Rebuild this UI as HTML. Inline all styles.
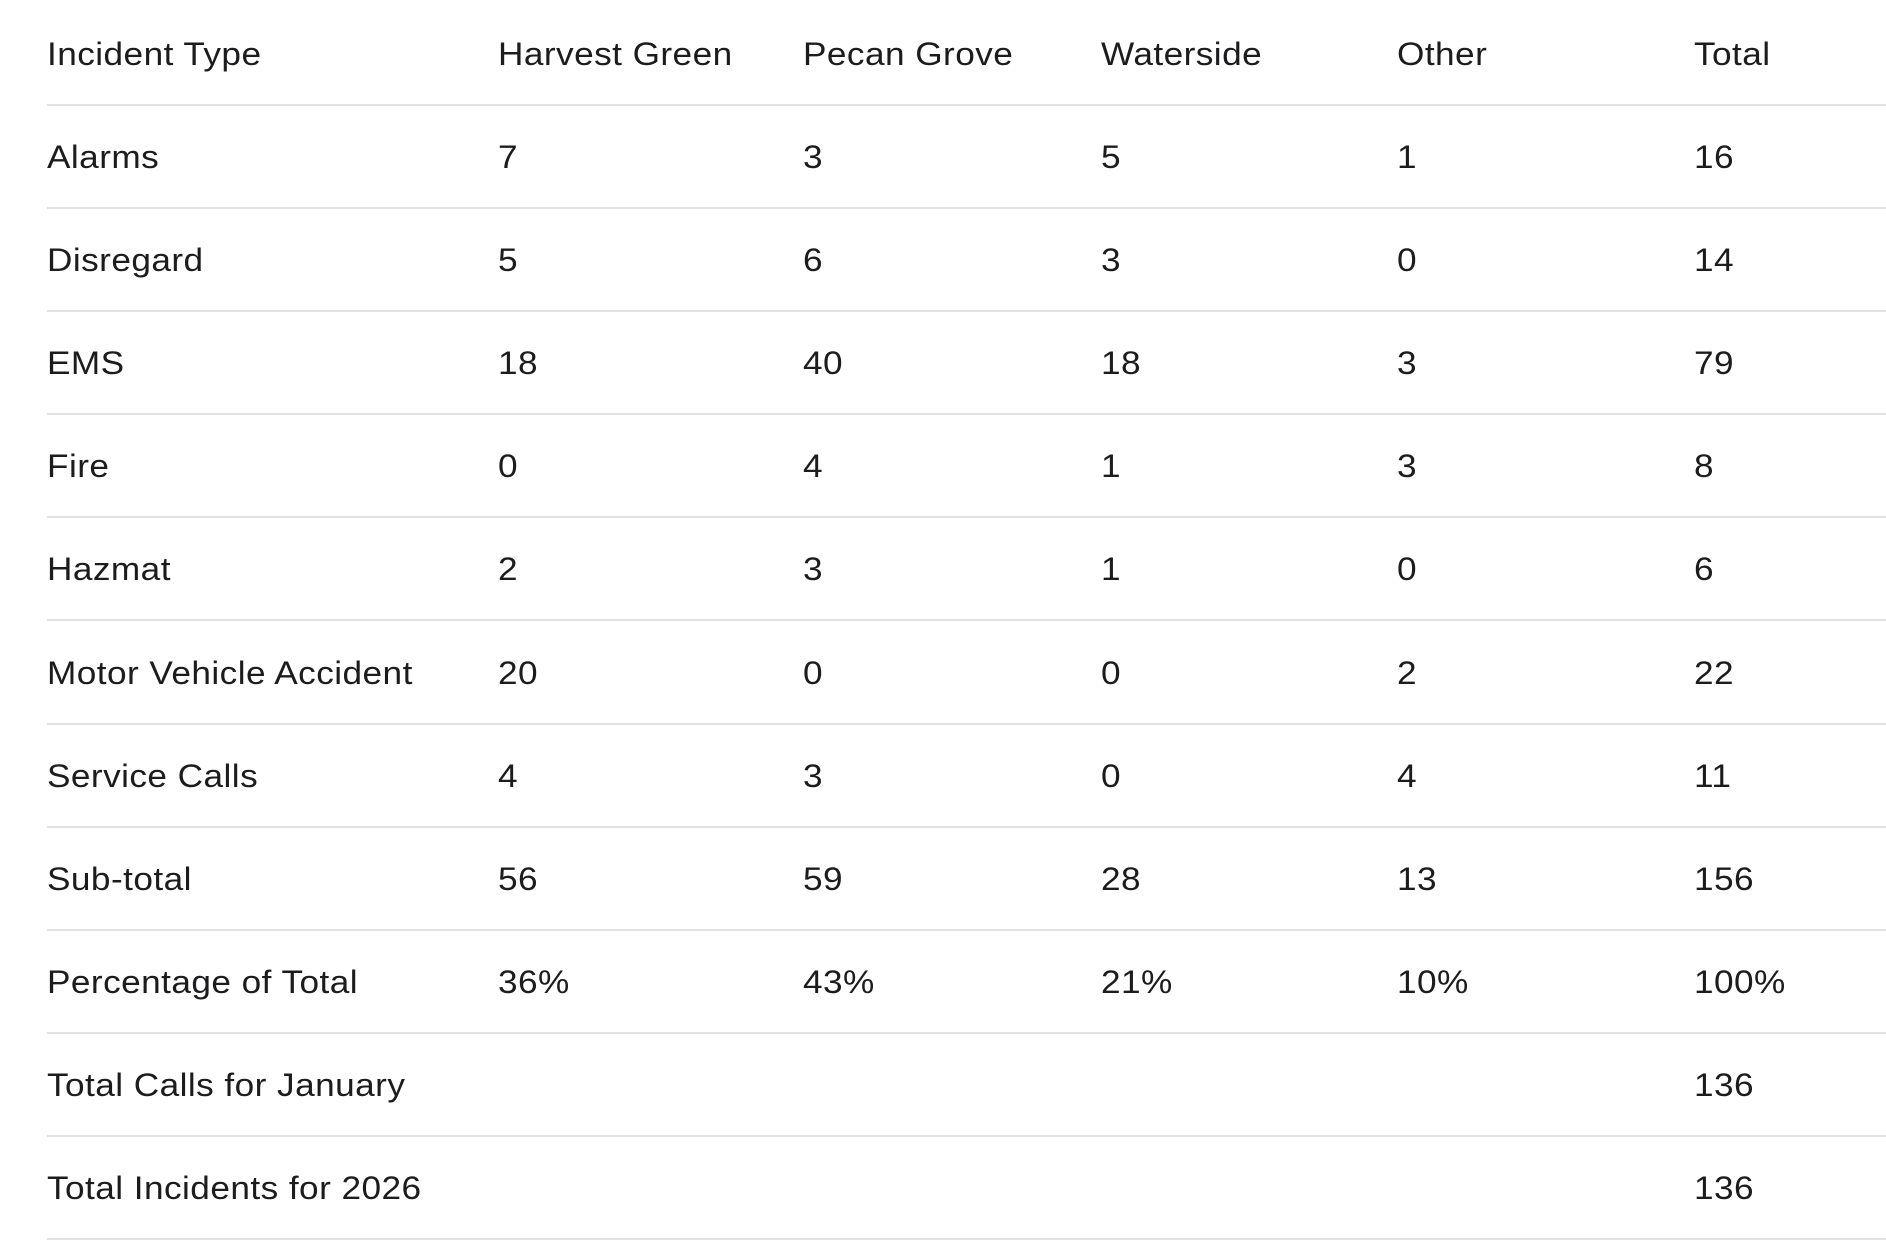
<!DOCTYPE html>
<html><head><meta charset="utf-8"><style>
body{margin:0;width:1886px;height:1242px;background:#fff;overflow:hidden;font-family:"Liberation Sans",sans-serif;color:#1c1c1e;position:relative}
.r{position:absolute;left:47px;right:0;height:103px}
.r.b{border-bottom:2px solid #e2e2e2}
.c{position:absolute;top:2px;line-height:103px;font-size:32px;white-space:nowrap;letter-spacing:0.4px;transform:scaleX(1.1);transform-origin:0 0}
</style></head><body>
<div id="t"></div>
<script>
const rows=[["Incident Type","Harvest Green","Pecan Grove","Waterside","Other","Total"],
["Alarms","7","3","5","1","16"],["Disregard","5","6","3","0","14"],["EMS","18","40","18","3","79"],
["Fire","0","4","1","3","8"],["Hazmat","2","3","1","0","6"],["Motor Vehicle Accident","20","0","0","2","22"],
["Service Calls","4","3","0","4","11"],["Sub-total","56","59","28","13","156"],
["Percentage of Total","36%","43%","21%","10%","100%"],["Total Calls for January","","","","","136"],
["Total Incidents for 2026","","","","","136"]];
const xs=[0,451,756,1054,1350,1647];
let h="";
rows.forEach((r,i)=>{const top=i==0?1:104+(i-1)*103.1;
h+=`<div class="r b" style="top:${top}px">`;
r.forEach((v,j)=>{h+=`<div class="c" style="left:${xs[j]}px">${v}</div>`});
h+="</div>";});
document.getElementById("t").innerHTML=h;
</script>
</body></html>
